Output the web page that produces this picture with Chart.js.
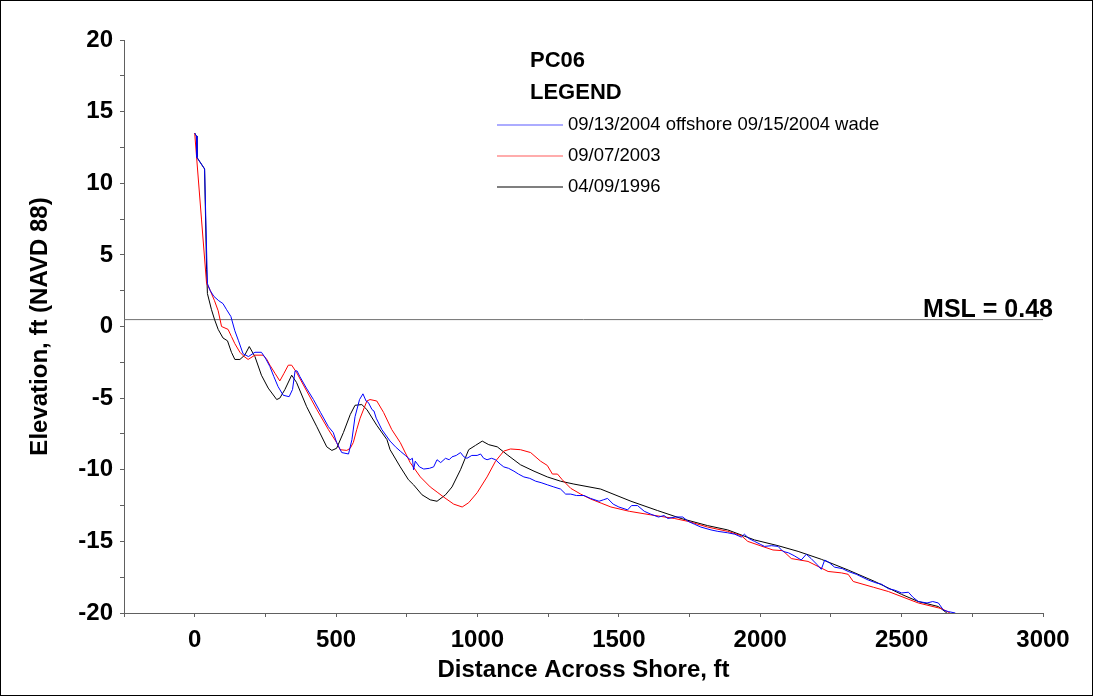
<!DOCTYPE html>
<html>
<head>
<meta charset="utf-8">
<title>PC06 Profile</title>
<script src="https://cdn.jsdelivr.net/npm/chart.js@4.4.1/dist/chart.umd.min.js"></script>
<style>
  html, body { margin: 0; padding: 0; background: #fff; }
  #frame { width: 1093px; height: 696px; box-sizing: border-box; border: 1px solid #000; position: relative; }
  #profileChart { display: block; }
</style>
</head>
<body>
<div id="frame">
  <canvas id="profileChart" width="1091" height="694"></canvas>
</div>
<script>
// Profile PC06 - elevation across shore

const seriesLabels = ['09/13/2004 offshore 09/15/2004 wade', '09/07/2003', '04/09/1996'];
const seriesColors = ['#0000ff', '#ff0000', '#000000'];

// 09/13/2004 offshore + 09/15/2004 wade
const distance2004 = [0, 6, 8, 35, 45, 55, 68, 85, 100, 112, 128, 142, 155, 171, 190, 213, 236, 250, 266, 280,
  295, 313, 334, 346, 355, 362, 372, 395, 420, 445, 473, 490, 502, 520, 544, 556, 567, 583, 595, 606,
  614, 627, 634, 642, 662, 691, 710, 727, 745, 762, 770, 774, 780, 795, 810, 830, 845, 857, 870, 887,
  900, 910, 925, 940, 952, 963, 980, 999, 1011, 1022, 1034, 1050, 1064, 1080, 1093, 1110, 1129, 1145, 1164, 1185,
  1206, 1225, 1247, 1270, 1294, 1312, 1330, 1350, 1377, 1400, 1430, 1445, 1460, 1480, 1500, 1531, 1545, 1566, 1590, 1613,
  1640, 1660, 1673, 1700, 1726, 1745, 1767, 1790, 1826, 1850, 1885, 1910, 1933, 1944, 1960, 1980, 2000, 2015, 2040, 2063,
  2080, 2100, 2120, 2145, 2163, 2180, 2200, 2216, 2228, 2245, 2263, 2290, 2311, 2340, 2382, 2410, 2430, 2453, 2475, 2500,
  2524, 2540, 2559, 2590, 2610, 2630, 2648, 2665, 2690];
const elev2004 = [13.5, 13.3, 11.8, 11.0, 3.0, 2.5, 2.1, 1.8, 1.6, 1.2, 0.7, -0.3, -1.0, -1.9, -2.1, -1.8, -1.8, -2.2, -2.8, -3.5,
  -4.2, -4.8, -4.9, -4.4, -3.1, -3.1, -3.5, -4.3, -5.1, -6.0, -7.0, -7.4, -8.1, -8.8, -8.9, -7.9, -6.3, -5.1, -4.7, -5.2,
  -5.3, -5.8, -5.9, -6.4, -7.2, -8.0, -8.4, -8.7, -9.0, -9.3, -9.2, -10.0, -9.4, -9.8, -9.95, -9.9, -9.8, -9.3, -9.5, -9.2,
  -9.3, -9.1, -9.0, -8.8, -9.1, -9.2, -9.0, -9.0, -8.9, -9.2, -9.3, -9.2, -9.3, -9.6, -9.8, -9.9, -10.1, -10.3, -10.5, -10.6,
  -10.8, -10.9, -11.05, -11.2, -11.35, -11.7, -11.7, -11.8, -11.8, -12.0, -12.2, -12.1, -12.0, -12.4, -12.6, -12.8, -12.5, -12.5, -12.9, -13.1,
  -13.3, -13.2, -13.4, -13.3, -13.3, -13.6, -13.8, -14.0, -14.2, -14.3, -14.4, -14.5, -14.7, -14.5, -14.8, -15.0, -15.2, -15.35, -15.3, -15.35,
  -15.7, -15.8, -16.0, -16.3, -15.9, -16.2, -16.6, -16.95, -16.3, -16.5, -16.8, -16.9, -17.1, -17.3, -17.7, -17.9, -18.0, -18.3, -18.4, -18.6,
  -18.55, -18.9, -19.2, -19.3, -19.2, -19.3, -19.8, -19.9, -20.0];

// 09/07/2003
const distance2003 = [0, 24, 42, 53, 70, 83, 95, 118, 130, 142, 160, 175, 189, 213, 242, 255, 266, 285, 301, 315,
  331, 343, 360, 396, 432, 473, 502, 514, 538, 550, 561, 573, 585, 609, 620, 644, 668, 697, 727, 762,
  798, 833, 860, 880, 916, 946, 969, 999, 1034, 1064, 1093, 1117, 1152, 1188, 1223, 1247, 1265, 1283, 1300, 1330,
  1365, 1401, 1440, 1472, 1537, 1613, 1696, 1744, 1814, 1885, 1933, 1956, 2000, 2045, 2080, 2110, 2169, 2240, 2287, 2311,
  2329, 2400, 2453, 2559, 2642, 2671];
const elev2003 = [13.5, 7.5, 3.0, 2.6, 1.8, 1.1, 0.0, -0.2, -0.7, -1.2, -1.8, -2.1, -2.3, -2.0, -2.0, -2.3, -2.7, -3.3, -3.8, -3.3,
  -2.7, -2.7, -3.2, -4.5, -5.8, -7.2, -8.1, -8.6, -8.65, -8.5, -8.1, -7.2, -6.4, -5.2, -5.1, -5.2, -6.0, -7.2, -8.1, -9.5,
  -10.5, -11.2, -11.6, -11.9, -12.4, -12.6, -12.3, -11.6, -10.5, -9.4, -8.7, -8.55, -8.6, -8.8, -9.4, -9.7, -10.3, -10.3, -10.7, -11.3,
  -11.7, -12.05, -12.35, -12.6, -12.9, -13.15, -13.4, -13.6, -14.0, -14.3, -14.6, -15.0, -15.3, -15.6, -15.65, -16.2, -16.4, -17.1, -17.2, -17.3,
  -17.8, -18.2, -18.5, -19.3, -19.7, -20.0];

// 04/09/1996
const distance1996 = [0, 6, 8, 35, 42, 45, 59, 70, 83, 100, 116, 130, 142, 160, 177, 193, 213, 236, 260, 290,
  301, 319, 343, 360, 396, 432, 467, 485, 502, 526, 550, 567, 591, 609, 644, 680, 691, 727, 756, 774,
  804, 833, 857, 887, 910, 940, 969, 993, 1017, 1040, 1070, 1105, 1152, 1200, 1247, 1294, 1341, 1436, 1543, 1637,
  1720, 1814, 1885, 1980, 2063, 2134, 2216, 2311, 2405, 2500, 2559, 2630, 2660];
const elev1996 = [13.5, 13.3, 11.8, 11.0, 4.0, 2.3, 1.2, 0.5, -0.2, -0.8, -1.0, -1.8, -2.3, -2.3, -2.0, -1.4, -2.1, -3.4, -4.3, -5.1,
  -5.0, -4.4, -3.4, -3.9, -5.6, -7.0, -8.4, -8.65, -8.5, -7.4, -6.15, -5.5, -5.45, -5.8, -6.9, -7.9, -8.6, -9.8, -10.7, -11.05,
  -11.75, -12.1, -12.2, -11.75, -11.2, -10.0, -8.6, -8.3, -8.0, -8.25, -8.4, -8.95, -9.65, -10.1, -10.5, -10.8, -11.0, -11.35, -12.2, -12.85,
  -13.4, -13.9, -14.2, -14.9, -15.3, -15.7, -16.25, -17.0, -17.8, -18.7, -19.2, -19.55, -20.0];

// mean sea level reference
const mslValue = 0.48;
const mslDistance = [-250, 3000];

// axis ranges / ticks
const xMin = -250, xMax = 3000, xStep = 250, xLabelEvery = 500;
const yMin = -20, yMax = 20, yStep = 2.5, yLabelEvery = 5;

const FONT = "'Liberation Sans', Arial, Helvetica, sans-serif";

function toPoints(xs, ys) {
    return xs.map((x, i) => ({ x: x, y: ys[i] }));
}

// legend + headings + MSL label drawn on top
const annotationsPlugin = {
    id: 'pcAnnotations',
    afterDraw(chart) {
        const ctx = chart.ctx;
        const area = chart.chartArea;
        ctx.save();
        ctx.textBaseline = 'middle';
        ctx.textAlign = 'left';
        ctx.fillStyle = '#000';
        ctx.font = 'bold 22px ' + FONT;
        ctx.fillText('PC06', 529, 60);
        ctx.fillText('LEGEND', 529, 92);

        ctx.font = '18.5px ' + FONT;
        const rowsY = [124, 155, 186];
        seriesLabels.forEach((label, i) => {
            // sample line (soft, like the original legend swatches)
            ctx.lineWidth = 1.2;
            ctx.strokeStyle = seriesColors[i];
            ctx.globalAlpha = i === 2 ? 1 : 0.65;
            ctx.beginPath();
            ctx.moveTo(496, rowsY[i]);
            ctx.lineTo(562, rowsY[i]);
            ctx.stroke();
            ctx.globalAlpha = 1;
            ctx.fillStyle = '#000';
            ctx.fillText(label, 567, rowsY[i]);
        });

        const yMsl = chart.scales.y.getPixelForValue(mslValue);
        ctx.font = 'bold 25px ' + FONT;
        ctx.textAlign = 'right';
        ctx.textBaseline = 'alphabetic';
        ctx.fillStyle = '#000';
        ctx.fillText('MSL = 0.48', area.right + 10, yMsl - 3);
        ctx.restore();
    }
};

const chartCtx = document.getElementById('profileChart');
new Chart(chartCtx, {
    type: 'line',
    data: {
        datasets: [
            {
                label: seriesLabels[0],
                data: toPoints(distance2004, elev2004),
                borderColor: seriesColors[0],
                borderWidth: 1,
                pointRadius: 0,
                tension: 0
            },
            {
                label: seriesLabels[1],
                data: toPoints(distance2003, elev2003),
                borderColor: seriesColors[1],
                borderWidth: 1,
                pointRadius: 0,
                tension: 0
            },
            {
                label: seriesLabels[2],
                data: toPoints(distance1996, elev1996),
                borderColor: seriesColors[2],
                borderWidth: 1,
                pointRadius: 0,
                tension: 0
            },
            {
                label: 'MSL',
                data: mslDistance.map(d => ({ x: d, y: mslValue })),
                borderColor: '#707070',
                borderWidth: 1,
                pointRadius: 0
            }
        ]
    },
    options: {
        responsive: false,
        animation: false,
        events: [],
        layout: { padding: { left: 0, top: 39, right: 49, bottom: 0 } },
        plugins: {
            legend: { display: false },
            tooltip: { enabled: false }
        },
        scales: {
            x: {
                type: 'linear',
                min: xMin,
                max: xMax,
                afterFit(scale) { scale.height = 82; },
                border: { color: '#606060', width: 1 },
                grid: { drawOnChartArea: false, drawTicks: true, tickLength: 4, color: '#606060' },
                ticks: {
                    stepSize: xStep,
                    autoSkip: false,
                    maxRotation: 0,
                    padding: 9,
                    color: '#000',
                    font: { family: FONT, size: 24, weight: 'bold' },
                    callback: v => (v % xLabelEvery === 0 ? String(v) : '')
                },
                title: {
                    display: true,
                    text: 'Distance Across Shore, ft',
                    color: '#000',
                    font: { family: FONT, size: 24, weight: 'bold' },
                    padding: { top: 0, bottom: 10 }
                }
            },
            y: {
                type: 'linear',
                min: yMin,
                max: yMax,
                afterFit(scale) { scale.width = 123; },
                border: { color: '#606060', width: 1 },
                grid: { drawOnChartArea: false, drawTicks: true, tickLength: 4, color: '#606060' },
                ticks: {
                    stepSize: yStep,
                    autoSkip: false,
                    padding: 7,
                    color: '#000',
                    font: { family: FONT, size: 24, weight: 'bold' },
                    callback: v => (v % yLabelEvery === 0 ? String(v) : '')
                },
                title: {
                    display: true,
                    text: 'Elevation, ft (NAVD 88)',
                    color: '#000',
                    font: { family: FONT, size: 24, weight: 'bold' },
                    padding: { top: 25, bottom: 0 }
                }
            }
        }
    },
    plugins: [annotationsPlugin]
});
</script>
</body>
</html>
